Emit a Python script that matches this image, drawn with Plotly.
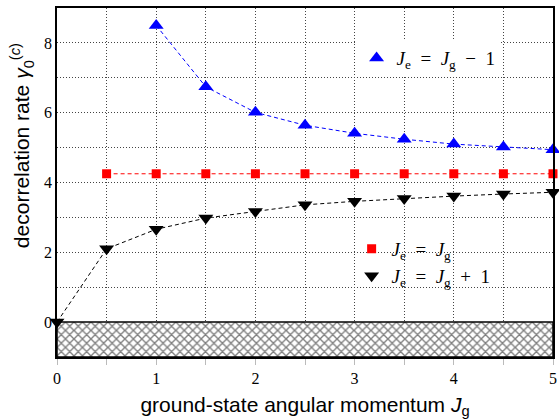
import plotly.graph_objects as go

# Data
jg_minus = [1.0, 1.5, 2.0, 2.5, 3.0, 3.5, 4.0, 4.5, 5.0]
rate_minus = [8.50, 6.74, 6.01, 5.64, 5.41, 5.24, 5.10, 5.02, 4.94]

jg_equal = [0.5, 1.0, 1.5, 2.0, 2.5, 3.0, 3.5, 4.0, 4.5, 5.0]
rate_equal = [4.25, 4.25, 4.25, 4.25, 4.25, 4.25, 4.25, 4.25, 4.25, 4.25]

jg_plus = [0.0, 0.5, 1.0, 1.5, 2.0, 2.5, 3.0, 3.5, 4.0, 4.5, 5.0]
rate_plus = [0.0, 2.10, 2.66, 2.98, 3.17, 3.36, 3.46, 3.54, 3.61, 3.67, 3.72]

forbidden_x = [0, 5, 5, 0, 0]
forbidden_y = [-1, -1, 0, 0, -1]

x_ticks = [0, 1, 2, 3, 4, 5]
y_ticks = [0, 2, 4, 6, 8]

serif = "Liberation Serif"
sans = "Liberation Sans"
sp = "\u2002"

series = [
    (jg_minus, rate_minus, "blue", "triangle-up", 13,
     f"<i>J</i><sub>e</sub>{sp}={sp}<i>J</i><sub>g</sub>{sp}−{sp}1", "legend"),
    (jg_equal, rate_equal, "red", "square", 9,
     f"<i>J</i><sub>e</sub>{sp}={sp}<i>J</i><sub>g</sub>", "legend2"),
    (jg_plus, rate_plus, "black", "triangle-down", 13,
     f"<i>J</i><sub>e</sub>{sp}={sp}<i>J</i><sub>g</sub>{sp}+{sp}1", "legend3"),
]

fig = go.Figure()

fig.add_trace(go.Scatter(
    x=forbidden_x, y=forbidden_y, mode="lines", fill="toself",
    fillcolor="white",
    fillpattern=dict(shape="x", size=6, solidity=0.4, fgcolor="black", bgcolor="white"),
    line=dict(color="black", width=1.5), showlegend=False, hoverinfo="skip",
))

for xs, ys, col, sym, sz, name, leg in series:
    fig.add_trace(go.Scatter(
        x=xs, y=ys, mode="lines", showlegend=False, hoverinfo="skip",
        line=dict(color=col, width=1, dash="4px,3px"), cliponaxis=False,
    ))
for xs, ys, col, sym, sz, name, leg in series:
    fig.add_trace(go.Scatter(
        x=xs, y=ys, mode="markers", name=name,
        marker=dict(symbol=sym, size=sz, color=col),
        legend=leg, cliponaxis=False,
    ))

leg_common = dict(xanchor="left", yanchor="top", borderwidth=0,
                  font=dict(family=serif, size=19))

# white boxes behind the lower legend entries (cover gridlines only)
legend_boxes = [
    dict(x0=0.60, x1=0.83, y0=0.27, y1=0.355),
    dict(x0=0.60, x1=0.902, y0=0.172, y1=0.27),
]
shapes = [dict(type="rect", xref="paper", yref="paper", layer="between",
               fillcolor="white", line=dict(width=0), **b) for b in legend_boxes]

fig.update_layout(
    width=559, height=420,
    margin=dict(l=57, r=2, t=8, b=63),
    plot_bgcolor="white", paper_bgcolor="white",
    font=dict(family=serif, size=16, color="black"),
    xaxis=dict(
        range=[0, 5], tickvals=x_ticks, showline=True, mirror=True,
        linecolor="black", linewidth=1.5, zeroline=False,
        ticks="outside", ticklen=6, tickcolor="#bbb",
        tickfont=dict(family=serif, size=16),
        showgrid=True, gridcolor="#444", griddash="1px,2px", gridwidth=1,
        minor=dict(dtick=0.5, showgrid=True, ticks="outside", ticklen=6,
                   tickcolor="#bbb", gridcolor="#444", griddash="1px,2px"),
        title=dict(text="ground-state angular momentum <i>J</i><sub>g</sub>",
                   font=dict(family=sans, size=21), standoff=11),
    ),
    yaxis=dict(
        range=[-1, 9], tickvals=y_ticks, showline=True, mirror=True,
        linecolor="black", linewidth=1.5, zeroline=False,
        ticks="", tickfont=dict(family=serif, size=16),
        showgrid=True, gridcolor="#444", griddash="1px,2px", gridwidth=1,
        minor=dict(dtick=1, showgrid=True, gridcolor="#444", griddash="1px,2px"),
    ),
    legend=dict(x=0.604, y=0.911, bgcolor="white", **leg_common),
    legend2=dict(x=0.594, y=0.364, bgcolor="rgba(0,0,0,0)", **leg_common),
    legend3=dict(x=0.594, y=0.287, bgcolor="rgba(0,0,0,0)", **leg_common),
    shapes=shapes,
    annotations=[dict(
        text="decorrelation rate <i>γ</i><sub>0</sub><sup>(<i>c</i>)</sup>",
        xref="paper", yref="paper", x=-0.07, y=0.605,
        xanchor="center", yanchor="middle", textangle=-90, showarrow=False,
        font=dict(family=sans, size=21),
    )],
)

fig.write_html(
    "out.html",
    config={"displayModeBar": False},
    post_script="document.body.style.margin='0';document.body.style.padding='0';",
)
